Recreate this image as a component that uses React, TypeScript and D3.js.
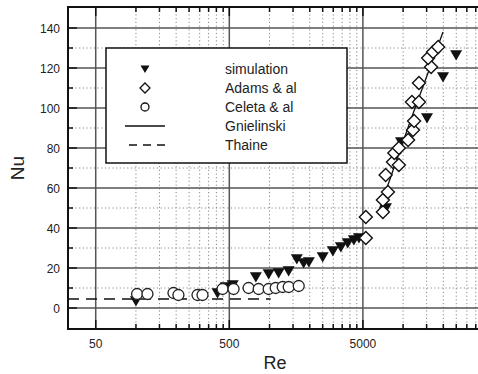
import React, { useEffect, useRef } from 'react';
import * as d3 from 'd3';

// simulation (filled triangles)
const simRe = [100, 408, 470, 530, 790, 985, 1170, 1390, 1600, 1800, 1970, 2500, 2980, 3420, 3850, 4280, 4670, 7440, 9640, 15100, 19900, 24950];
const simNu = [3.5, 7.5, 10.5, 11.5, 15.5, 17, 17.5, 18.5, 24.5, 22.5, 23, 25.5, 28.5, 30.5, 32.5, 34, 35, 50, 83, 95, 115.5, 126.5];

// Adams & al (open diamonds)
const adamsRe = [5260, 5260, 7060, 7060, 7700, 7400, 8400, 9300, 8600, 9300, 10900, 11860, 12080, 11650, 13150, 13150, 16200, 15400, 16750, 18300];
const adamsNu = [35, 45.5, 48, 54, 58, 66.5, 73, 71.5, 77.5, 80, 84, 89, 93.5, 103, 103, 112.5, 120.5, 125, 128, 130.5];

// Celeta & al (open circles)
const celetaRe = [102, 122, 191, 208, 289, 315, 445, 538, 697, 829, 985, 1112, 1255, 1392, 1654];
const celetaNu = [7, 7, 7.5, 6.5, 6.5, 6.5, 9.5, 9.5, 10, 9.5, 9.5, 10, 10.5, 10.5, 11];

// Gnielinski (solid line) and Thaine (dashed line)
const gnielRe = [6700, 11400, 19900];
const gnielNu = [50, 94, 138];
const thaineRe = [31, 1020];
const thaineNu = [4.5, 4.5];

const xMajor = [50, 500, 5000];
const yMajor = [0, 20, 40, 60, 80, 100, 120, 140];
const yMinor = [10, 30, 50, 70, 90, 110, 130];

const legendLabels = ['simulation', 'Adams & al', 'Celeta & al', 'Gnielinski', 'Thaine'];

const FONT = '"Liberation Sans", Arial, sans-serif';

const App: React.FC = () => {
  const svgRef = useRef<SVGSVGElement>(null);

  useEffect(() => {
    const svg = d3.select(svgRef.current);
    svg.selectAll('*').remove();

    const left = 68, right = 479, top = 7, bottom = 329;
    const x = d3.scaleLog().domain([31, 37000]).range([left, right]);
    const y = d3.scaleLinear().domain([-10.5, 150.5]).range([bottom, top]);

    // minor x ticks: Origin style, linear steps of the major value between decades
    const xMinor: number[] = [];
    xMajor.forEach(m => {
      for (let k = 2; k <= 9; k++) {
        const v = m * k;
        if (v < 37000) xMinor.push(v);
      }
    });

    svg.append('rect').attr('width', 478).attr('height', 374).attr('fill', 'white');

    const grid = svg.append('g');
    // dotted minor grid
    xMinor.forEach(v => {
      grid.append('line')
        .attr('x1', x(v)).attr('x2', x(v)).attr('y1', top).attr('y2', bottom)
        .attr('stroke', '#888').attr('stroke-width', 1).attr('stroke-dasharray', '1.2,2.5');
    });
    yMinor.forEach(v => {
      grid.append('line')
        .attr('x1', left).attr('x2', right).attr('y1', y(v)).attr('y2', y(v))
        .attr('stroke', '#888').attr('stroke-width', 1).attr('stroke-dasharray', '1.2,2.5');
    });
    // solid major grid
    xMajor.forEach(v => {
      grid.append('line')
        .attr('x1', x(v)).attr('x2', x(v)).attr('y1', top).attr('y2', bottom)
        .attr('stroke', '#555').attr('stroke-width', 1.5);
    });
    yMajor.forEach(v => {
      grid.append('line')
        .attr('x1', left).attr('x2', right).attr('y1', y(v)).attr('y2', y(v))
        .attr('stroke', '#555').attr('stroke-width', 1.5);
    });

    // frame
    svg.append('path')
      .attr('d', `M${right},${top}H${left}V${bottom}H${right}`)
      .attr('fill', 'none').attr('stroke', '#111').attr('stroke-width', 2);

    // ticks
    const ticks = svg.append('g').attr('stroke', '#111').attr('stroke-width', 1.5);
    xMajor.forEach(v => {
      ticks.append('line').attr('x1', x(v)).attr('x2', x(v)).attr('y1', bottom).attr('y2', bottom - 9);
      ticks.append('line').attr('x1', x(v)).attr('x2', x(v)).attr('y1', top).attr('y2', top + 9);
    });
    xMinor.forEach(v => {
      ticks.append('line').attr('x1', x(v)).attr('x2', x(v)).attr('y1', bottom).attr('y2', bottom - 5);
      ticks.append('line').attr('x1', x(v)).attr('x2', x(v)).attr('y1', top).attr('y2', top + 5);
    });
    yMajor.forEach(v => {
      ticks.append('line').attr('x1', left).attr('x2', left + 9).attr('y1', y(v)).attr('y2', y(v));
    });
    yMinor.forEach(v => {
      ticks.append('line').attr('x1', left).attr('x2', left + 5).attr('y1', y(v)).attr('y2', y(v));
    });

    // tick labels
    yMajor.forEach(v => {
      svg.append('text')
        .attr('x', 60).attr('y', y(v) + 4.5)
        .attr('text-anchor', 'end')
        .attr('font-family', FONT).attr('font-size', 12).attr('fill', '#222')
        .text(v);
    });
    xMajor.forEach(v => {
      svg.append('text')
        .attr('x', x(v)).attr('y', 348)
        .attr('text-anchor', 'middle')
        .attr('font-family', FONT).attr('font-size', 12).attr('fill', '#222')
        .text(v);
    });

    // axis titles
    svg.append('text')
      .attr('transform', 'translate(24,168) rotate(-90)')
      .attr('text-anchor', 'middle')
      .attr('font-family', FONT).attr('font-size', 19).attr('fill', '#222')
      .text('Nu');
    svg.append('text')
      .attr('x', 275).attr('y', 369)
      .attr('text-anchor', 'middle')
      .attr('font-family', FONT).attr('font-size', 18).attr('fill', '#222')
      .text('Re');

    // legend box
    const lg = svg.append('g');
    lg.append('rect')
      .attr('x', 106).attr('y', 48).attr('width', 241).attr('height', 115)
      .attr('fill', 'white').attr('stroke', '#111').attr('stroke-width', 1.5);

    const triangle = (cx: number, cy: number, s: number) =>
      `M${cx - s},${cy - s * 0.8}L${cx + s},${cy - s * 0.8}L${cx},${cy + s * 0.9}Z`;
    const diamond = (cx: number, cy: number, s: number) =>
      `M${cx},${cy - s}L${cx + s},${cy}L${cx},${cy + s}L${cx - s},${cy}Z`;

    const rowY = [69, 88, 107, 126, 145];
    const symX = 145;
    lg.append('path').attr('d', triangle(symX, rowY[0], 4.5)).attr('fill', '#111');
    lg.append('path').attr('d', diamond(symX, rowY[1], 5))
      .attr('fill', 'white').attr('stroke', '#111').attr('stroke-width', 1.3);
    lg.append('circle').attr('cx', symX).attr('cy', rowY[2]).attr('r', 4)
      .attr('fill', 'white').attr('stroke', '#111').attr('stroke-width', 1.3);
    lg.append('line').attr('x1', 125).attr('x2', 165).attr('y1', rowY[3]).attr('y2', rowY[3])
      .attr('stroke', '#111').attr('stroke-width', 1.5);
    lg.append('line').attr('x1', 129).attr('x2', 165).attr('y1', rowY[4]).attr('y2', rowY[4])
      .attr('stroke', '#111').attr('stroke-width', 1.5).attr('stroke-dasharray', '8,6');
    legendLabels.forEach((t, i) => {
      lg.append('text')
        .attr('x', 225).attr('y', rowY[i] + 5)
        .attr('font-family', FONT).attr('font-size', 14).attr('fill', '#222')
        .text(t);
    });

    // lines
    const line = d3.line<[number, number]>().x(d => x(d[0])).y(d => y(d[1]));
    svg.append('path')
      .attr('d', line(thaineRe.map((r, i) => [r, thaineNu[i]]) as [number, number][]))
      .attr('fill', 'none').attr('stroke', '#111').attr('stroke-width', 1.5)
      .attr('stroke-dasharray', '11,7');
    svg.append('path')
      .attr('d', line(gnielRe.map((r, i) => [r, gnielNu[i]]) as [number, number][]))
      .attr('fill', 'none').attr('stroke', '#111').attr('stroke-width', 1.3);

    // simulation triangles
    simRe.forEach((r, i) => {
      svg.append('path').attr('d', triangle(x(r), y(simNu[i]), 6)).attr('fill', '#111');
    });
    // Celeta circles
    celetaRe.forEach((r, i) => {
      svg.append('circle').attr('cx', x(r)).attr('cy', y(celetaNu[i])).attr('r', 5.5)
        .attr('fill', 'white').attr('stroke', '#222').attr('stroke-width', 1.3);
    });
    // Adams diamonds
    adamsRe.forEach((r, i) => {
      svg.append('path').attr('d', diamond(x(r), y(adamsNu[i]), 6.5))
        .attr('fill', 'white').attr('stroke', '#111').attr('stroke-width', 1.4);
    });
  }, []);

  return (
    <div style={{ position: 'absolute', left: 0, top: 0 }}>
      <svg ref={svgRef} width={478} height={374} style={{ display: 'block' }}></svg>
    </div>
  );
};

export default App;
